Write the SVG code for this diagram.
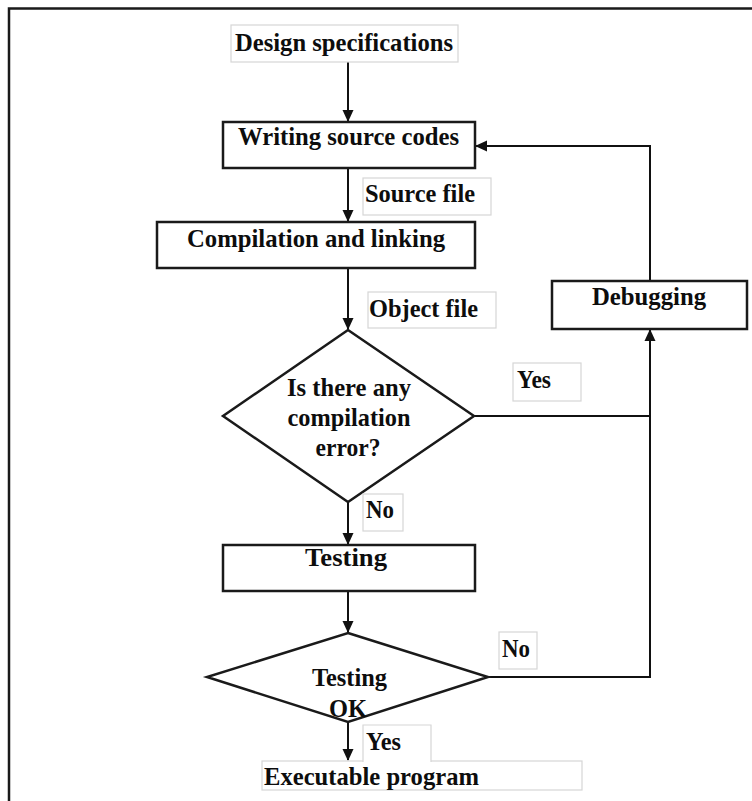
<svg xmlns="http://www.w3.org/2000/svg" width="752" height="801" viewBox="0 0 752 801">
  <style>
    text { font-family: "Liberation Serif", "Times New Roman", Times, serif; font-weight: bold; font-size: 24.5px; fill: #0d0d0d; }
    .node { fill: #fff; stroke: #1a1a1a; stroke-width: 2.5; }
    .tag { fill: #fff; stroke: #d6d6d6; stroke-width: 1.2; }
    .wire { fill: none; stroke: #111; stroke-width: 2; }
    .c { text-anchor: middle; }
  </style>
  <defs>
    <marker id="arrow" viewBox="0 0 12 12" refX="11" refY="6" markerWidth="12" markerHeight="12" markerUnits="userSpaceOnUse" orient="auto">
      <path d="M0,0.5 L12,6 L0,11.5 Z" fill="#111"/>
    </marker>
  </defs>

  <rect width="752" height="801" fill="#fff"/>
  <!-- page frame -->
  <path d="M9,801 V8.5 H752" fill="none" stroke="#1a1a1a" stroke-width="2.5"/>

  <!-- connectors -->
  <g id="connectors">
    <line class="wire" x1="348" y1="62" x2="348" y2="121" marker-end="url(#arrow)"/>
    <line class="wire" x1="348" y1="168" x2="348" y2="221" marker-end="url(#arrow)"/>
    <line class="wire" x1="348" y1="268" x2="348" y2="329" marker-end="url(#arrow)"/>
    <line class="wire" x1="348" y1="502" x2="348" y2="544" marker-end="url(#arrow)"/>
    <line class="wire" x1="348" y1="591" x2="348" y2="632" marker-end="url(#arrow)"/>
    <line class="wire" x1="348" y1="722" x2="348" y2="760" marker-end="url(#arrow)"/>
    <!-- failure paths into Debugging -->
    <line class="wire" x1="474" y1="416" x2="650" y2="416"/>
    <polyline class="wire" points="488,677 650,677 650,330" marker-end="url(#arrow)"/>
    <!-- Debugging back to Writing source codes -->
    <polyline class="wire" points="650,281 650,146 476,146" marker-end="url(#arrow)"/>
  </g>

  <g id="design-spec">
    <rect class="tag" x="231" y="25" width="227" height="37"/>
    <text x="344" y="51" class="c" textLength="218" lengthAdjust="spacingAndGlyphs">Design specifications</text>
  </g>

  <g id="writing">
    <rect class="node" x="223" y="122" width="252" height="46"/>
    <text x="348.5" y="145" class="c" textLength="221" lengthAdjust="spacingAndGlyphs">Writing  source codes</text>
  </g>

  <g id="source-file">
    <rect class="tag" x="363" y="178" width="128" height="37"/>
    <text x="365" y="202" textLength="110" lengthAdjust="spacingAndGlyphs">Source file</text>
  </g>

  <g id="compilation">
    <rect class="node" x="157" y="222" width="318" height="46"/>
    <text x="316" y="247" class="c" textLength="258" lengthAdjust="spacingAndGlyphs">Compilation  and linking</text>
  </g>

  <g id="object-file">
    <rect class="tag" x="368" y="292" width="128" height="36"/>
    <text x="369" y="317" textLength="109" lengthAdjust="spacingAndGlyphs">Object  file</text>
  </g>

  <g id="compile-check">
    <polygon class="node" stroke-width="2" points="348,330 474,416 348,502 223,416"/>
    <text x="349" y="396" class="c" textLength="124" lengthAdjust="spacingAndGlyphs">Is there any</text>
    <text x="349" y="426" class="c" textLength="123" lengthAdjust="spacingAndGlyphs">compilation</text>
    <text x="348" y="456" class="c" textLength="65" lengthAdjust="spacingAndGlyphs">error?</text>
  </g>

  <g id="yes-compile">
    <rect class="tag" x="513" y="363" width="68" height="38"/>
    <text x="517" y="388" textLength="34" lengthAdjust="spacingAndGlyphs">Yes</text>
  </g>

  <g id="debugging">
    <rect class="node" x="552" y="281" width="195" height="48"/>
    <text x="649" y="305" class="c" textLength="114" lengthAdjust="spacingAndGlyphs">Debugging</text>
  </g>

  <g id="no-compile">
    <rect class="tag" x="363" y="494" width="40" height="37"/>
    <text x="366" y="518" textLength="28" lengthAdjust="spacingAndGlyphs">No</text>
  </g>

  <g id="testing">
    <rect class="node" x="223" y="545" width="252" height="46"/>
    <text x="346" y="566" class="c" textLength="82" lengthAdjust="spacingAndGlyphs">Testing</text>
  </g>

  <g id="test-check">
    <polygon class="node" stroke-width="2" points="348,633 488,677 348,722 207,677"/>
    <text x="349.5" y="686" class="c" textLength="75" lengthAdjust="spacingAndGlyphs">Testing</text>
    <text x="348" y="717" class="c" textLength="38" lengthAdjust="spacingAndGlyphs">OK</text>
  </g>

  <g id="no-test">
    <rect class="tag" x="499" y="632" width="38" height="37"/>
    <text x="502" y="657" textLength="28" lengthAdjust="spacingAndGlyphs">No</text>
  </g>

  <g id="executable">
    <rect class="tag" x="262" y="761" width="320" height="29"/>
    <text x="264" y="785" textLength="215" lengthAdjust="spacingAndGlyphs">Executable program</text>
  </g>

  <g id="yes-test">
    <rect x="363" y="725" width="68" height="37" fill="#fff"/>
    <path class="tag" fill="none" d="M363,762 V725 H431 V762"/>
    <text x="366" y="750" textLength="35" lengthAdjust="spacingAndGlyphs">Yes</text>
  </g>
</svg>
